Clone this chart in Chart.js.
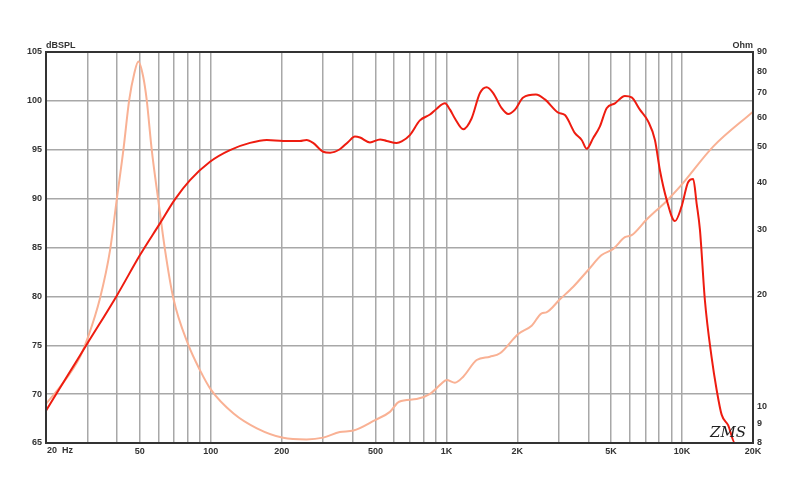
<!DOCTYPE html>
<html>
<head>
<meta charset="utf-8">
<script src="https://cdn.jsdelivr.net/npm/chart.js@4/dist/chart.umd.min.js"></script>
<style>
  html, body { margin: 0; padding: 0; background: #fff; }
  #wrap { width: 800px; height: 484px; }
</style>
</head>
<body>
<div id="wrap"><canvas id="chartCanvas" width="800" height="484"></canvas></div>
<script>
// SPL response (Hz, dB)
const splFreqs = [20, 25, 30, 40, 50.1, 60.9, 70.5, 81.7, 99.3, 120.7, 146.8, 173, 203, 239, 255, 272, 300, 321, 353, 383, 409, 430, 474, 523, 558, 615, 646, 700, 772, 852, 910, 986, 1036, 1087, 1179, 1279, 1388, 1482, 1580, 1716, 1830, 1955, 2118, 2398, 2618, 2983, 3184, 3511, 3750, 3937, 4198, 4482, 4786, 5190, 5722, 6110, 6622, 7180, 7672, 8054, 8600, 9328, 9956, 10620, 11150, 11530, 11910, 12500, 13340, 14030, 14720, 15700, 16760, 20000];
const splValues = [68.3, 72.1, 75.2, 80.1, 84.23, 87.47, 89.93, 91.9, 93.78, 94.97, 95.7, 96.0, 95.9, 95.9, 96.0, 95.7, 94.8, 94.7, 95.05, 95.8, 96.35, 96.25, 95.75, 96.05, 95.9, 95.7, 95.85, 96.5, 98.0, 98.6, 99.2, 99.75, 99.1, 98.2, 97.1, 98.2, 100.8, 101.4, 100.8, 99.25, 98.65, 99.1, 100.35, 100.65, 100.15, 98.8, 98.55, 96.7, 96.0, 95.1, 96.2, 97.4, 99.25, 99.75, 100.5, 100.35, 99.1, 97.9, 96.0, 92.9, 89.9, 87.7, 89.2, 91.7, 92.0, 89.5, 86.8, 79.6, 73.8, 70.4, 67.9, 66.8, 65.0, 65.0];

// impedance (Hz, Ohm)
const impFreqs = [20, 22.9, 27.9, 30.2, 33.9, 37.4, 39.9, 42.6, 45.1, 47.4, 49.3, 51.7, 53.5, 56.2, 59.9, 64, 69.4, 80.3, 90, 100, 125, 157, 203, 255, 300, 353, 403, 498, 576, 630, 748, 852, 945, 1002, 1087, 1179, 1344, 1530, 1688, 2018, 2300, 2536, 2655, 3032, 3454, 3998, 4558, 5106, 5722, 6110, 7074, 8600, 9796, 13550, 20000];
const impValues = [10.2, 11.3, 13.65, 15.45, 19.6, 26.4, 36.0, 49.1, 66.9, 78.9, 84.8, 77.2, 66.9, 49.1, 36.0, 26.4, 19.6, 14.7, 12.56, 11.15, 9.6, 8.76, 8.26, 8.18, 8.27, 8.56, 8.64, 9.22, 9.7, 10.33, 10.5, 10.84, 11.5, 11.82, 11.62, 12.06, 13.37, 13.65, 13.94, 15.71, 16.53, 17.85, 17.96, 19.47, 21.05, 23.35, 25.6, 26.6, 28.6, 28.96, 31.9, 35.8, 39.1, 50.1, 62.2];

const freqTicks = [20, 30, 40, 50, 60, 70, 80, 90, 100, 200, 300, 400, 500, 600, 700, 800, 900, 1000, 2000, 3000, 4000, 5000, 6000, 7000, 8000, 9000, 10000, 20000];
const freqLabels = { 50: '50', 100: '100', 200: '200', 500: '500', 1000: '1K', 2000: '2K', 5000: '5K', 10000: '10K', 20000: '20K' };
const ohmTicks = [8, 9, 10, 20, 30, 40, 50, 60, 70, 80, 90];

const tickFont = { family: 'Liberation Sans', size: 9, weight: 'bold' };

const extraText = {
    id: 'extraText',
    afterDraw(chart) {
        const { ctx, chartArea } = chart;
        ctx.save();
        // frame
        ctx.strokeStyle = '#333';
        ctx.lineWidth = 2;
        ctx.strokeRect(chartArea.left, chartArea.top, chartArea.right - chartArea.left, chartArea.bottom - chartArea.top);
        ctx.fillStyle = '#333';
        ctx.font = 'bold 9px "Liberation Sans"';
        ctx.textBaseline = 'bottom';
        ctx.textAlign = 'left';
        ctx.fillText('dBSPL', chartArea.left, chartArea.top - 2);
        ctx.textAlign = 'right';
        ctx.fillText('Ohm', chartArea.right, chartArea.top - 2);
        ctx.textAlign = 'left';
        ctx.textBaseline = 'middle';
        ctx.fillText('20  Hz', chartArea.left + 1, chartArea.bottom + 8);
        // logo
        ctx.font = 'italic 15px "DejaVu Serif"';
        ctx.fillStyle = '#222';
        ctx.textBaseline = 'alphabetic';
        ctx.fillText('ZMS', 710, 437);
        ctx.restore();
    }
};

new Chart(document.getElementById('chartCanvas').getContext('2d'), {
    type: 'line',
    data: {
        datasets: [{
            label: 'SPL',
            data: splFreqs.map((f, i) => ({ x: f, y: splValues[i] })),
            borderColor: '#ee1c10',
            borderWidth: 2,
            pointRadius: 0,
            cubicInterpolationMode: 'monotone',
            yAxisID: 'y'
        }, {
            label: 'Impedance',
            data: impFreqs.map((f, i) => ({ x: f, y: impValues[i] })),
            borderColor: '#f9b194',
            borderWidth: 2,
            pointRadius: 0,
            cubicInterpolationMode: 'monotone',
            yAxisID: 'y2'
        }]
    },
    options: {
        responsive: false,
        animation: false,
        layout: { padding: { top: 52, left: 0, right: 0, bottom: 0 } },
        plugins: { legend: { display: false }, tooltip: { enabled: false } },
        scales: {
            x: {
                type: 'logarithmic',
                min: 20,
                max: 20000,
                afterBuildTicks: s => { s.ticks = freqTicks.map(v => ({ value: v })); },
                afterFit: s => { s.height = 41; },
                grid: { color: '#a8a8a8', lineWidth: 1.5, drawTicks: false },
                border: { color: '#333', width: 2 },
                ticks: {
                    autoSkip: false,
                    maxRotation: 0,
                    padding: 3,
                    color: '#333',
                    font: tickFont,
                    callback: v => freqLabels[v] || ''
                }
            },
            y: {
                position: 'left',
                min: 65,
                max: 105,
                afterFit: s => { s.width = 46; },
                grid: { color: '#a8a8a8', lineWidth: 1.5, drawTicks: false },
                border: { color: '#333', width: 2 },
                ticks: { stepSize: 5, padding: 4, color: '#333', font: tickFont }
            },
            y2: {
                type: 'logarithmic',
                position: 'right',
                min: 8,
                max: 90,
                afterBuildTicks: s => { s.ticks = ohmTicks.map(v => ({ value: v })); },
                afterFit: s => { s.width = 47; },
                grid: { display: false, drawTicks: false },
                border: { color: '#333', width: 2 },
                ticks: { padding: 4, color: '#333', font: tickFont, callback: v => String(v) }
            }
        }
    },
    plugins: [extraText]
});
</script>
</body>
</html>
